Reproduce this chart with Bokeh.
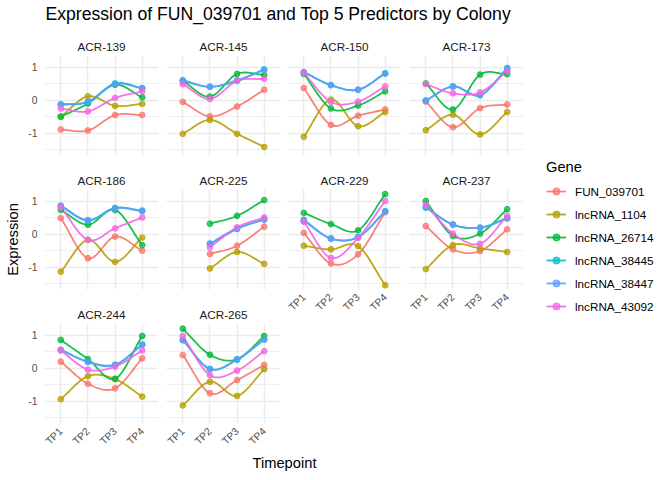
import numpy as np
from bokeh.plotting import figure
from bokeh.models import Range1d, FixedTicker, LinearAxis, Legend, LegendItem, ColumnDataSource
from bokeh.layouts import row, column
from bokeh.embed import file_html
from bokeh.resources import INLINE

# ---------------- data ----------------
colonies = ["ACR-139", "ACR-145", "ACR-150", "ACR-173", "ACR-186",
            "ACR-225", "ACR-229", "ACR-237", "ACR-244", "ACR-265"]
timepoints = ["TP1", "TP2", "TP3", "TP4"]
genes = ["FUN_039701", "lncRNA_1104", "lncRNA_26714",
         "lncRNA_38445", "lncRNA_38447", "lncRNA_43092"]
colors = ["#F8766D", "#B79F00", "#00BA38", "#00BFC4", "#619CFF", "#F564E3"]

# values ordered colony by colony, TP1..TP4 (None = not measured)
fun_039701 = [-0.89, -0.92, -0.45, -0.45,
              -0.05, -0.49, -0.19, 0.32,
              0.37, -0.75, -0.47, -0.28,
              -0.04, -0.82, -0.24, -0.13,
              0.49, -0.73, -0.07, -0.50,
              None, -0.60, -0.35, 0.23,
              0.04, -0.89, -0.61, 0.67,
              0.25, -0.46, -0.51, 0.15,
              0.20, -0.47, -0.61, 0.30,
              0.40, -0.76, -0.36, 0.10]
lncrna_1104 = [-0.50, 0.12, -0.17, -0.11,
               -1.02, -0.60, -1.02, -1.42,
               -1.11, 0.02, -0.79, -0.36,
               -0.91, -0.44, -1.04, -0.36,
               -1.14, -0.17, -0.84, -0.10,
               None, -1.04, -0.54, -0.90,
               -0.35, -0.46, -0.36, -1.55,
               -1.06, -0.33, -0.43, -0.54,
               -0.94, -0.24, -0.33, -0.86,
               -1.13, -0.41, -0.84, -0.03]
lncrna_26714 = [-0.50, -0.10, 0.47, 0.09,
                0.59, 0.11, 0.80, 0.77,
                0.80, -0.25, -0.16, 0.27,
                0.51, -0.28, 0.78, 0.79,
                0.74, 0.29, 0.74, -0.33,
                None, 0.32, 0.56, 1.04,
                0.65, 0.31, 0.12, 1.22,
                1.01, -0.05, 0.02, 0.76,
                0.86, 0.28, -0.32, 0.98,
                1.20, 0.41, 0.27, 0.98]
lncrna_38445 = [-0.14, -0.05, 0.51, 0.37,
                0.59, 0.41, 0.59, 0.94,
                0.85, 0.46, 0.32, 0.82,
                -0.01, 0.42, 0.15, 0.98,
                0.87, 0.43, 0.80, 0.72,
                None, -0.30, 0.16, 0.46,
                0.44, -0.13, -0.09, 0.70,
                0.81, 0.29, 0.20, 0.48,
                0.56, 0.20, 0.11, 0.72,
                0.86, -0.02, 0.27, 0.88]
lncrna_38447 = [-0.12, -0.04, 0.49, 0.36,
                0.61, 0.41, 0.61, 0.92,
                0.86, 0.46, 0.32, 0.81,
                -0.01, 0.42, 0.16, 0.94,
                0.85, 0.41, 0.79, 0.70,
                None, -0.28, 0.18, 0.44,
                0.41, -0.13, -0.08, 0.69,
                0.82, 0.30, 0.20, 0.49,
                0.56, 0.19, 0.09, 0.72,
                0.85, -0.03, 0.26, 0.87]
lncrna_43092 = [-0.25, -0.34, 0.07, 0.27,
                0.49, 0.04, 0.59, 0.65,
                0.83, -0.05, -0.04, 0.42,
                0.49, 0.21, 0.24, 0.88,
                0.82, -0.17, 0.18, 0.51,
                None, -0.40, 0.21, 0.51,
                0.38, -0.72, -0.11, 1.01,
                0.89, 0.02, -0.29, 0.56,
                0.54, -0.04, 0.05, 0.54,
                0.98, -0.21, -0.07, 0.52]
series = [fun_039701, lncrna_1104, lncrna_26714, lncrna_38445, lncrna_38447, lncrna_43092]

title_text = "Expression of FUN_039701 and Top 5 Predictors by Colony"
x_title = "Timepoint"
y_title = "Expression"
legend_title = "Gene"

FONT = "Liberation Sans"
TICK_FS = "10.3px"
Y_RANGE = (-1.68, 1.36)
X_RANGE = (0.4, 4.6)
TOTAL_W = 672
TOP_H = 33
T_B = 22
LW = 1.8
PT = 5.8


def smooth(xs, ys, n=24):
    """Catmull-Rom curve through the measured points (display only)."""
    xs = np.asarray(xs, float)
    ys = np.asarray(ys, float)
    if len(xs) < 3:
        return xs, ys
    P = np.column_stack([xs, ys])
    P = np.vstack([2 * P[0] - P[1], P, 2 * P[-1] - P[-2]])
    out = []
    t = np.linspace(0, 1, n)[:, None]
    for i in range(1, len(P) - 2):
        p0, p1, p2, p3 = P[i - 1], P[i], P[i + 1], P[i + 2]
        seg = 0.5 * (2 * p1 + (-p0 + p2) * t + (2 * p0 - 5 * p1 + 4 * p2 - p3) * t ** 2
                     + (-p0 + 3 * p1 - 3 * p2 + p3) * t ** 3)
        out.append(seg if i == 1 else seg[1:])
    out = np.vstack(out)
    return out[:, 0], out[:, 1]


def blank(**kw):
    f = figure(x_axis_location=None, y_axis_location=None, toolbar_location=None,
               output_backend="svg", outline_line_color=None, **kw)
    f.xgrid.visible = False
    f.ygrid.visible = False
    return f


def make_panel(ci, left_axis, bottom_axis, lb, rb, ylabel=None):
    bb = 30 if bottom_axis else 12
    h = T_B + 100 + bb
    p = figure(width=lb + 114 + rb, height=h,
               x_range=Range1d(*X_RANGE), y_range=Range1d(*Y_RANGE),
               x_axis_location=None, y_axis_location=None,
               toolbar_location=None, output_backend="svg",
               min_border_left=lb, min_border_right=rb,
               min_border_top=T_B, min_border_bottom=bb,
               outline_line_color=None, title=colonies[ci])
    p.title.align = "center"
    p.title.text_font = FONT
    p.title.text_font_size = "11.7px"
    p.title.text_font_style = "normal"
    p.title.text_color = "#1A1A1A"
    p.title.standoff = 5
    p.xgrid.ticker = FixedTicker(ticks=[1, 2, 3, 4])
    p.ygrid.ticker = FixedTicker(ticks=[-1, 0, 1], minor_ticks=[-1.5, -0.5, 0.5])
    for g in (p.xgrid, p.ygrid):
        g.grid_line_color = "#EBEBEB"
        g.grid_line_width = 1.5
    p.ygrid.minor_grid_line_color = "#EBEBEB"
    p.ygrid.minor_grid_line_width = 0.8

    if left_axis:
        ya = LinearAxis(ticker=FixedTicker(ticks=[-1, 0, 1]),
                        major_label_overrides={-1: "-1", 0: "0", 1: "1"},
                        axis_line_color=None, major_tick_line_color=None,
                        minor_tick_line_color=None, major_tick_out=0, major_tick_in=0,
                        major_label_standoff=7, major_label_text_font=FONT,
                        major_label_text_font_size=TICK_FS,
                        major_label_text_color="#4D4D4D")
        if ylabel:
            ya.axis_label = ylabel
            ya.axis_label_text_font = FONT
            ya.axis_label_text_font_size = "14.7px"
            ya.axis_label_text_font_style = "normal"
            ya.axis_label_text_color = "black"
            ya.axis_label_standoff = 4
        p.add_layout(ya, "left")
    if bottom_axis:
        xa = LinearAxis(ticker=FixedTicker(ticks=[1, 2, 3, 4]),
                        major_label_overrides={i + 1: tp for i, tp in enumerate(timepoints)},
                        major_label_orientation=np.pi / 4,
                        axis_line_color=None, major_tick_line_color=None,
                        minor_tick_line_color=None, major_tick_out=0, major_tick_in=0,
                        major_label_standoff=6, major_label_text_font=FONT,
                        major_label_text_font_size=TICK_FS,
                        major_label_text_color="#4D4D4D")
        p.add_layout(xa, "below")

    pts = []
    for gi, vals in enumerate(series):
        v = vals[ci * 4:(ci + 1) * 4]
        xs = [i + 1 for i, y in enumerate(v) if y is not None]
        ys = [y for y in v if y is not None]
        sx, sy = smooth(xs, ys)
        p.line(x=sx, y=sy, line_color=colors[gi], line_width=LW, line_alpha=0.9)
        pts.append((xs, ys, colors[gi]))
    for xs, ys, c in pts:
        p.scatter(x=xs, y=ys, size=PT, fill_color=c, line_color=c, alpha=0.75)
    return p


# panel layout: facet_wrap with 4 columns
cols_spec = [(44, 4), (4, 3), (4, 4), (4, 4)]
col_children = [[] for _ in range(4)]
for ci in range(len(colonies)):
    r, c = divmod(ci, 4)
    is_bottom = (ci + 4) >= len(colonies)
    lb, rb = cols_spec[c]
    ylabel = y_title if (c == 0 and r == 1) else None
    col_children[c].append(make_panel(ci, c == 0, is_bottom, lb, rb, ylabel))
cols = [column(ch, spacing=0) for ch in col_children]
widths = [lb + 114 + rb for lb, rb in cols_spec]
GRID_H = 2 * (T_B + 112) + (T_B + 130)

# legend
legend_x0 = sum(widths)
lf = blank(width=TOTAL_W - legend_x0, height=GRID_H,
           x_range=Range1d(0, 1), y_range=Range1d(0, 1),
           min_border_left=19, min_border_top=159 - TOP_H,
           min_border_right=0, min_border_bottom=0)
items = []
for g, c in zip(genes, colors):
    src = ColumnDataSource(data=dict(x=[np.nan], y=[np.nan]))
    lr = lf.line(x="x", y="y", source=src, line_color=c, line_width=LW, line_alpha=0.9)
    sr = lf.scatter(x="x", y="y", source=src, size=PT, fill_color=c, line_color=c, alpha=0.75)
    items.append(LegendItem(label=g, renderers=[lr, sr]))
leg = Legend(items=items, location="top_left", title=legend_title,
             title_text_font=FONT, title_text_font_size="14.7px",
             title_text_font_style="normal", title_text_color="black",
             title_standoff=7, label_text_font=FONT, label_text_font_size="11.7px",
             label_text_color="black", glyph_width=20, glyph_height=18,
             label_height=18, label_standoff=9, spacing=5, padding=0, margin=0,
             border_line_color=None, background_fill_alpha=0)
lf.add_layout(leg)

# main title
tf = blank(width=TOTAL_W, height=TOP_H, x_range=Range1d(0, 1), y_range=Range1d(0, 1),
           min_border_left=45, min_border_right=0, min_border_top=24, min_border_bottom=0,
           title=title_text)
tf.title.align = "left"
tf.title.text_font = FONT
tf.title.text_font_size = "17.6px"
tf.title.text_font_style = "normal"
tf.title.text_color = "black"
tf.title.standoff = 3

# x axis title, centred under the panel block
XF_H = 480 - TOP_H - GRID_H
xf = blank(width=TOTAL_W, height=XF_H, x_range=Range1d(0, 1), y_range=Range1d(0, 1),
           min_border_left=44, min_border_right=TOTAL_W - (legend_x0 - 4),
           min_border_top=0, min_border_bottom=XF_H - 1)
xa = LinearAxis(ticker=FixedTicker(ticks=[]), axis_label=x_title,
                axis_line_color=None, major_tick_line_color=None, minor_tick_line_color=None,
                major_tick_out=0, major_tick_in=0, major_label_standoff=0,
                axis_label_standoff=0, axis_label_text_font=FONT,
                axis_label_text_font_size="14.7px", axis_label_text_font_style="normal",
                axis_label_text_color="black")
xf.add_layout(xa, "below")

layout = column(tf, row(cols + [lf], spacing=0), xf, spacing=0)

open("out.html", "w").write(file_html(layout, INLINE))
